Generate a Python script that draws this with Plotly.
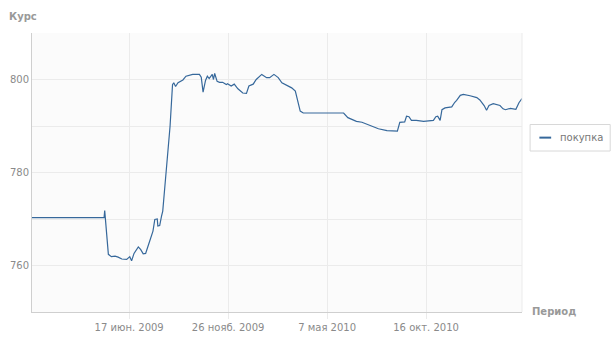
import plotly.graph_objects as go

dates = [
    "2009-01-09", "2009-05-07", "2009-05-08", "2009-05-14", "2009-05-19", "2009-05-25",
    "2009-05-30", "2009-06-05", "2009-06-13", "2009-06-18", "2009-06-21", "2009-06-25",
    "2009-07-02", "2009-07-06", "2009-07-10", "2009-07-14", "2009-07-18", "2009-07-23",
    "2009-07-26", "2009-07-29", "2009-08-02", "2009-08-03", "2009-08-06", "2009-08-09",
    "2009-08-11", "2009-08-14", "2009-08-17", "2009-08-20", "2009-08-23", "2009-08-27",
    "2009-08-29", "2009-09-01", "2009-09-05", "2009-09-13", "2009-09-18", "2009-09-29",
    "2009-10-10", "2009-10-13", "2009-10-16", "2009-10-20", "2009-10-23", "2009-10-26",
    "2009-10-31", "2009-11-02", "2009-11-04", "2009-11-08", "2009-11-12", "2009-11-17",
    "2009-11-23", "2009-11-25", "2009-12-01", "2009-12-06", "2009-12-12", "2009-12-20",
    "2009-12-26", "2009-12-30", "2010-01-06", "2010-01-11", "2010-01-20", "2010-01-28",
    "2010-02-02", "2010-02-09", "2010-02-16", "2010-02-22", "2010-03-02", "2010-03-10",
    "2010-03-16", "2010-03-21", "2010-03-24", "2010-03-29", "2010-06-03", "2010-06-10",
    "2010-06-24", "2010-07-03", "2010-07-16", "2010-07-30", "2010-08-13", "2010-08-28",
    "2010-08-30", "2010-09-03", "2010-09-11", "2010-09-14", "2010-09-18", "2010-09-22",
    "2010-09-30", "2010-10-12", "2010-10-28", "2010-11-01", "2010-11-04", "2010-11-08",
    "2010-11-11", "2010-11-16", "2010-11-27", "2010-12-02", "2010-12-05", "2010-12-11",
    "2010-12-16", "2010-12-27", "2011-01-07", "2011-01-12", "2011-01-19", "2011-01-23",
    "2011-01-27", "2011-02-03", "2011-02-14", "2011-02-19", "2011-02-23", "2011-03-03",
    "2011-03-12", "2011-03-17", "2011-03-22",
]
values = [
    770.3, 770.3, 771.8, 762.4, 761.9, 762.0,
    761.8, 761.4, 761.3, 761.9, 761.0, 762.6,
    764.0, 763.4, 762.5, 762.6, 764.2, 766.2,
    767.4, 769.9, 770.0, 768.5, 768.6, 770.6,
    771.7, 776.3, 780.6, 785.0, 790.0, 798.9,
    799.3, 798.5, 799.3, 799.9, 800.7, 801.1,
    801.1, 800.5, 797.3, 799.8, 800.7, 800.2,
    801.1, 800.0, 801.3, 799.6, 799.4, 799.4,
    798.9, 799.1, 798.6, 799.0, 798.0, 797.1,
    797.0, 798.6, 799.0, 800.0, 801.1, 800.4,
    800.4, 801.1, 800.4, 799.3, 798.7, 798.2,
    797.5, 795.0, 793.2, 792.8, 792.8, 791.8,
    791.0, 790.8, 790.1, 789.4, 789.0, 788.9,
    788.9, 790.8, 790.9, 792.1, 792.0, 791.2,
    791.2, 791.0, 791.2, 792.0, 792.1, 791.2,
    793.5, 793.9, 794.1, 795.1, 795.5, 796.6,
    796.8, 796.5, 796.1, 795.6, 794.4, 793.4,
    794.4, 794.8, 794.4, 793.7, 793.5, 793.8,
    793.6, 795.0, 795.9,
]

series_name = "покупка"
x_tick_vals = ["2009-06-17", "2009-11-26", "2010-05-07", "2010-10-16"]
x_tick_text = ["17 июн. 2009", "26 нояб. 2009", "7 мая 2010", "16 окт. 2010"]
y_tick_vals = [750, 760, 770, 780, 790, 800, 810]
y_tick_text = ["", "760", "", "780", "", "800", ""]
x_range = ["2009-01-09", "2011-03-22"]
y_range = [750, 810]

LINE = "#36689b"
GRID = "#ebebeb"
TXT = "#8a8a8a"
FONT = "DejaVu Sans"

fig = go.Figure()
fig.add_trace(go.Scatter(x=dates, y=values, mode="lines", name=series_name,
                         line=dict(color=LINE, width=1.2), showlegend=False))

fig.update_layout(
    width=616, height=341,
    margin=dict(l=32, r=94, t=33, b=29),
    paper_bgcolor="white",
    plot_bgcolor="#fbfbfb",
    font=dict(family=FONT, size=10, color=TXT),
    xaxis=dict(range=x_range, type="date", tickmode="array", tickvals=x_tick_vals,
               ticktext=x_tick_text, showgrid=True, gridcolor=GRID, gridwidth=1,
               showline=True, linecolor="#cfcfcf", linewidth=1, automargin=False,
               ticks="outside", ticklen=6, tickcolor=GRID, zeroline=False,
               tickfont=dict(family=FONT, size=10, color=TXT)),
    yaxis=dict(range=y_range, tickmode="array", tickvals=y_tick_vals, ticktext=y_tick_text,
               showgrid=True, gridcolor=GRID, gridwidth=1, showline=True, automargin=False,
               linecolor="#cfcfcf", linewidth=1, mirror=False, zeroline=False,
               ticks="", tickfont=dict(family=FONT, size=10, color=TXT)),
)

# right edge line
fig.add_shape(type="line", xref="paper", yref="paper", x0=1, x1=1, y0=0, y1=1,
              line=dict(color=GRID, width=1))

# axis titles
fig.add_annotation(text="<b>Курс</b>", xref="paper", yref="paper", x=-0.051, y=1.0,
                   yshift=17, xanchor="left", yanchor="middle", showarrow=False,
                   font=dict(family=FONT, size=10, color="#999999"))
fig.add_annotation(text="<b>Период</b>", xref="paper", yref="paper", x=1.016, y=0.0,
                   yshift=1, xanchor="left", yanchor="middle", showarrow=False,
                   font=dict(family=FONT, size=10, color="#999999"))

# legend box
fig.add_shape(type="rect", xref="paper", yref="paper", x0=1.0165, x1=1.18, y0=0.577, y1=0.672,
              line=dict(color="#d8d8d8", width=1), fillcolor="white")
fig.add_shape(type="line", xref="paper", yref="paper", x0=1.0355, x1=1.0595, y0=0.625, y1=0.625,
              line=dict(color=LINE, width=2))
fig.add_annotation(text=series_name, xref="paper", yref="paper", x=1.073, y=0.625,
                   xanchor="left", yanchor="middle", showarrow=False,
                   font=dict(family=FONT, size=10, color="#777777"))

fig.write_html("out.html")
